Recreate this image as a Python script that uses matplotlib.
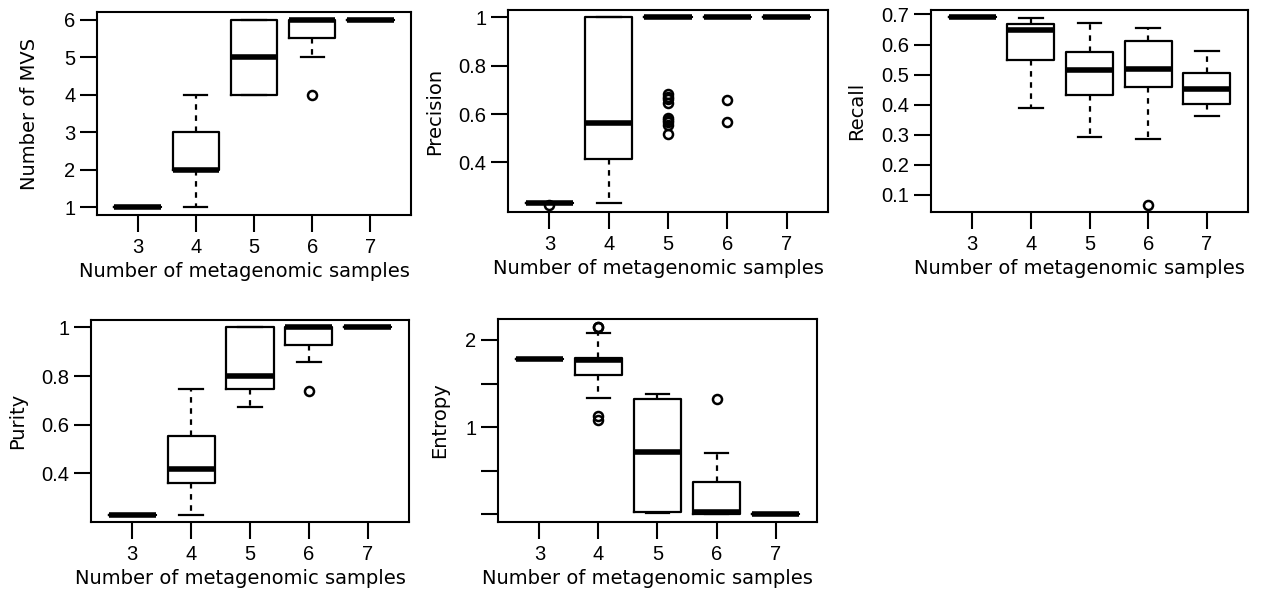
import matplotlib
matplotlib.use('Agg')
import matplotlib.pyplot as plt

W, H = 1269, 590

groups = ['3', '4', '5', '6', '7']

# five-number summaries per group: whisker low, q1, median, q3, whisker high
mvs_lo = [1, 1, 4, 5, 6]
mvs_q1 = [1, 2, 4, 5.5, 6]
mvs_med = [1, 2, 5, 6, 6]
mvs_q3 = [1, 3, 6, 6, 6]
mvs_hi = [1, 4, 6, 6, 6]
mvs_out = [[], [], [], [4], []]

prec_lo = [0.233, 0.233, 1, 1, 1]
prec_q1 = [0.233, 0.412, 1, 1, 1]
prec_med = [0.233, 0.561, 1, 1, 1]
prec_q3 = [0.233, 1, 1, 1, 1]
prec_hi = [0.233, 1, 1, 1, 1]
prec_out = [[0.225], [], [0.684, 0.672, 0.661, 0.647, 0.585, 0.575, 0.565, 0.555, 0.518],
            [0.658, 0.567], []]

rec_lo = [0.69, 0.388, 0.291, 0.285, 0.364]
rec_q1 = [0.69, 0.547, 0.431, 0.459, 0.401]
rec_med = [0.69, 0.647, 0.515, 0.52, 0.453]
rec_q3 = [0.69, 0.669, 0.576, 0.611, 0.506]
rec_hi = [0.69, 0.688, 0.672, 0.656, 0.579]
rec_out = [[], [], [], [0.068], []]

pur_lo = [0.231, 0.231, 0.672, 0.858, 1]
pur_q1 = [0.231, 0.359, 0.746, 0.93, 1]
pur_med = [0.231, 0.42, 0.801, 1, 1]
pur_q3 = [0.231, 0.555, 1, 1, 1]
pur_hi = [0.231, 0.747, 1, 1, 1]
pur_out = [[], [], [], [0.74], []]

ent_lo = [1.777, 1.339, 0.013, 0, 0]
ent_q1 = [1.777, 1.596, 0.032, 0, 0]
ent_med = [1.777, 1.77, 0.72, 0.028, 0]
ent_q3 = [1.777, 1.797, 1.327, 0.374, 0]
ent_hi = [1.777, 2.077, 1.377, 0.70, 0]
ent_out = [[], [2.154, 2.145, 1.13, 1.08], [], [1.32], []]

# box = axes edges in pixels (left, right, top, bottom), ylx = y label centre x
panels = [
    dict(lab='Number of MVS', stats=(mvs_lo, mvs_q1, mvs_med, mvs_q3, mvs_hi, mvs_out),
         ticks=[1, 2, 3, 4, 5, 6], labels=['1', '2', '3', '4', '5', '6'],
         box=(97, 411, 12, 215), ylx=30),
    dict(lab='Precision', stats=(prec_lo, prec_q1, prec_med, prec_q3, prec_hi, prec_out),
         ticks=[0.4, 0.6, 0.8, 1.0], labels=['0.4', '0.6', '0.8', '1'],
         box=(508, 828, 10, 212), ylx=435),
    dict(lab='Recall', stats=(rec_lo, rec_q1, rec_med, rec_q3, rec_hi, rec_out),
         ticks=[0.1, 0.2, 0.3, 0.4, 0.5, 0.6, 0.7],
         labels=['0.1', '0.2', '0.3', '0.4', '0.5', '0.6', '0.7'],
         box=(931, 1248, 10, 212), ylx=857),
    dict(lab='Purity', stats=(pur_lo, pur_q1, pur_med, pur_q3, pur_hi, pur_out),
         ticks=[0.4, 0.6, 0.8, 1.0], labels=['0.4', '0.6', '0.8', '1'],
         box=(91, 409, 320, 522), ylx=18),
    dict(lab='Entropy', stats=(ent_lo, ent_q1, ent_med, ent_q3, ent_hi, ent_out),
         ticks=[0, 0.5, 1, 1.5, 2], labels=['', '', '1', '', '2'],
         box=(498, 817, 319, 522), ylx=440),
]

fig = plt.figure(figsize=(W / 100, H / 100), dpi=100)

for p in panels:
    l, r, t, b = p['box']
    ax = fig.add_axes([l / W, 1 - b / H, (r - l) / W, (b - t) / H])
    lo, q1, med, q3, hi, out = p['stats']
    bstats = []
    for i in range(5):
        bstats.append(dict(whislo=lo[i], q1=q1[i], med=med[i], q3=q3[i],
                           whishi=hi[i], fliers=out[i]))
    ax.bxp(bstats, positions=range(1, 6), widths=0.8, capwidths=0.4,
           showfliers=True,
           boxprops=dict(color='black', linewidth=1.6),
           medianprops=dict(color='black', linewidth=4, solid_capstyle='butt'),
           whiskerprops=dict(color='black', linewidth=1.6, linestyle=(0, (2.5, 2.5))),
           capprops=dict(color='black', linewidth=1.6),
           flierprops=dict(marker='o', markerfacecolor='none', markeredgecolor='black',
                           markersize=6.5, markeredgewidth=1.8))

    # R style axis range: data range plus 4 percent
    vals = lo + hi + [v for o in out for v in o]
    vmin, vmax = min(vals), max(vals)
    pad = (vmax - vmin) * 0.04
    ax.set_ylim(vmin - pad, vmax + pad)
    ax.set_xlim(0.3, 5.7)

    ax.set_xticks(range(1, 6))
    ax.set_xticklabels(groups, family='Liberation Sans', fontsize=14.5)
    ax.set_yticks(p['ticks'])
    ax.set_yticklabels(p['labels'], family='Liberation Sans', fontsize=14.5)
    ax.tick_params(axis='both', length=12.5, width=1.5, direction='out')
    ax.tick_params(axis='x', pad=4)
    ax.tick_params(axis='y', pad=3)
    for s in ax.spines.values():
        s.set_linewidth(1.5)

    ax.set_xlabel('Number of metagenomic samples', family='DejaVu Sans', fontsize=14)
    ax.xaxis.label.set_va('baseline')
    ax.xaxis.set_label_coords(((l + r) / 2 + 1 - 11 - l) / (r - l), -62 / (b - t))
    ax.set_ylabel(p['lab'], family='DejaVu Sans', fontsize=14)
    ax.yaxis.label.set_va('center')
    ax.yaxis.set_label_coords((p['ylx'] - l) / (r - l), 0.5)

fig.savefig('out.png', dpi=100)
